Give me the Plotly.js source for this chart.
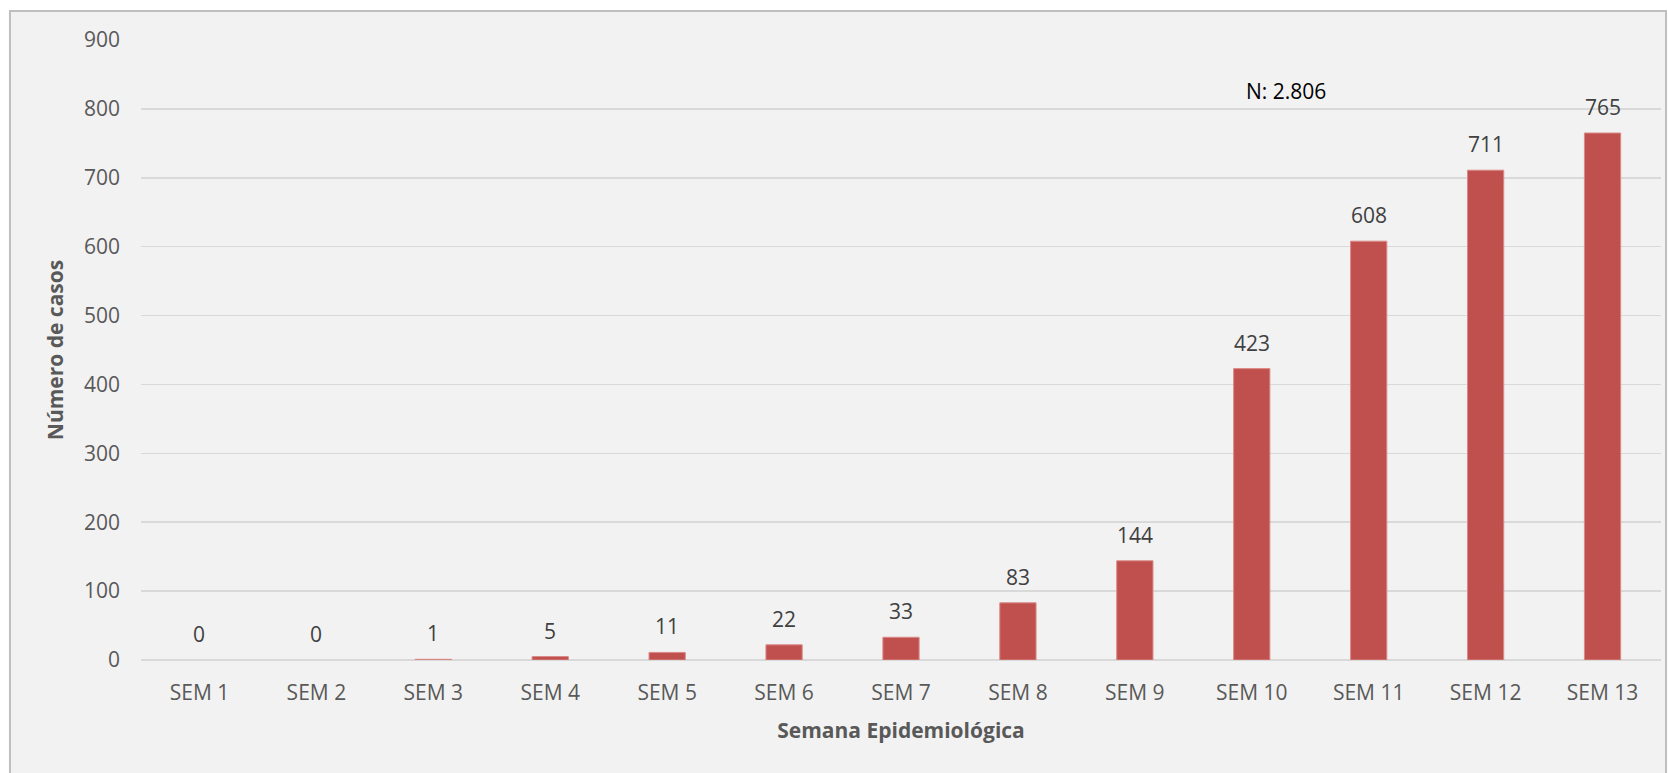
<!DOCTYPE html>
<html>
<head>
<meta charset="utf-8">
<script src="https://cdn.plot.ly/plotly-3.0.1.min.js"></script>
<style>
html,body{margin:0;padding:0;background:#ffffff;}
#chart{width:1668px;height:773px;}
</style>
</head>
<body>
<div id="chart"></div>
<script>
var categories = ["SEM 1","SEM 2","SEM 3","SEM 4","SEM 5","SEM 6","SEM 7","SEM 8","SEM 9","SEM 10","SEM 11","SEM 12","SEM 13"];
var casos = [0, 0, 1, 5, 11, 22, 33, 83, 144, 423, 608, 711, 765];
var yTicks = [0, 100, 200, 300, 400, 500, 600, 700, 800, 900];
var totalLabel = "N: 2.806";

var FONT = "Open Sans, Lato, sans-serif";

var trace = {
  type: "bar",
  x: categories,
  y: casos,
  marker: {color: "#C0504D", line: {color: "#d98a88", width: casos.map(function(v){ return v > 0 ? 1 : 0; })}},
  hoverinfo: "x+y"
};

var labelAnnotations = categories.map(function(c, i){
  return {
    x: c, y: casos[i], xref: "x", yref: "y",
    text: String(casos[i]), showarrow: false,
    yanchor: "bottom", yshift: 10,
    font: {family: FONT, size: 21, color: "#404040"}
  };
});

labelAnnotations.push({
  x: 0.7535, y: 826, xref: "paper", yref: "y",
  text: totalLabel, showarrow: false,
  xanchor: "center", yanchor: "middle",
  font: {family: FONT, size: 21, color: "#000000"}
});

var layout = {
  width: 1668, height: 773,
  margin: {l: 141, r: 7, t: 40, b: 113},
  paper_bgcolor: "#ffffff",
  plot_bgcolor: "rgba(0,0,0,0)",
  showlegend: false,
  bargap: 0.69,
  font: {family: FONT, size: 21, color: "#595959"},
  xaxis: {
    type: "category",
    showgrid: false, zeroline: false, showline: false,
    ticks: "", ticklen: 0,
    ticklabelstandoff: 18,
    tickfont: {family: FONT, size: 21, color: "#595959"},
    title: {text: "<b>Semana Epidemiológica</b>", standoff: 18, font: {family: FONT, size: 21, color: "#595959"}}
  },
  yaxis: {
    range: [0, 900],
    tickvals: yTicks,
    ticktext: yTicks.map(String),
    showgrid: true, gridcolor: "#d9d9d9", gridwidth: 1.5,
    zeroline: true, zerolinecolor: "#d9d9d9", zerolinewidth: 1.5,
    showline: false, ticks: "",
    ticklabelstandoff: 20,
    tickfont: {family: FONT, size: 21, color: "#595959"},
    title: {text: "<b>Número de casos</b>", standoff: 14, font: {family: FONT, size: 21, color: "#595959"}}
  },
  shapes: [{
    type: "rect", xref: "paper", yref: "paper", layer: "below",
    x0: -0.0862, x1: 1.0033, y0: -0.25, y1: 1.0468,
    fillcolor: "#f2f2f2", line: {color: "#bfbfbf", width: 2}
  }],
  annotations: labelAnnotations
};

Plotly.newPlot("chart", [trace], layout, {displayModeBar: false, staticPlot: true});
</script>
</body>
</html>
